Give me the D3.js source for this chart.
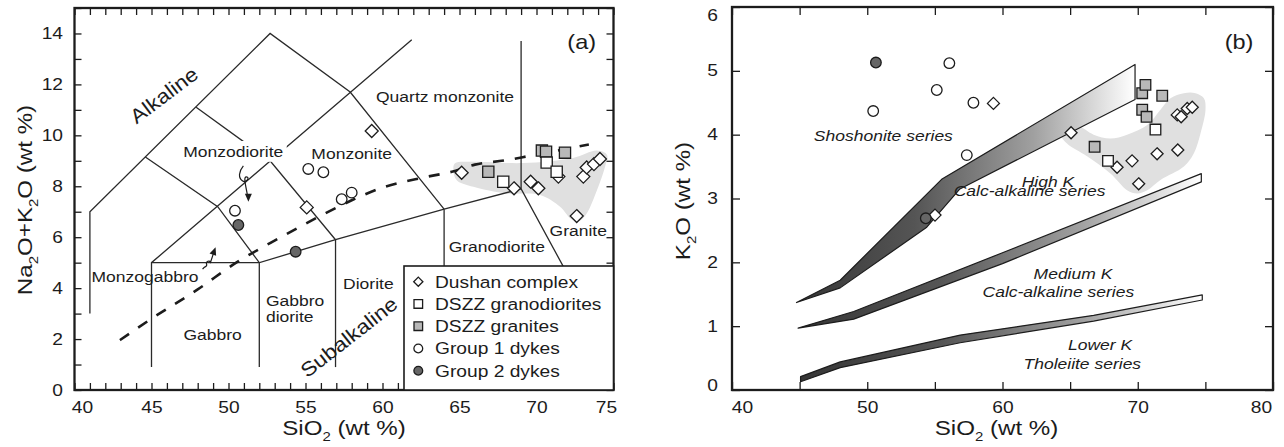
<!DOCTYPE html>
<html>
<head>
<meta charset="utf-8">
<title>Dushan complex: TAS and K2O–SiO2 diagrams</title>
<script src="https://cdn.jsdelivr.net/npm/d3@7/dist/d3.min.js"></script>
<style>
  html, body { margin: 0; padding: 0; background: #fff; }
  svg { display: block; }
  svg text { font-family: "Liberation Sans", Arial, Helvetica, sans-serif; fill: #1c1c1c; }
</style>
</head>
<body>
<svg id="chart" width="1284" height="447"></svg>
<script>
// ---------- Panel (a): total alkali vs silica (SiO2, Na2O+K2O) ----------
const dushanTAS       = [[55.08,7.17],[59.3,10.17],[65.14,8.53],[68.54,7.92],[69.62,8.18],[70.12,7.92],
                         [71.42,8.38],[72.61,6.83],[73.04,8.38],[73.26,8.74],[73.73,8.87],[74.12,9.07]];
const granodioriteTAS = [[67.84,8.18],[70.66,8.93],[71.31,8.57]];
const graniteTAS      = [[66.87,8.57],[70.35,9.40],[70.62,9.36],[71.85,9.32]];
const group1TAS       = [[50.42,7.04],[55.18,8.68],[56.16,8.55],[57.35,7.49],[58.0,7.75]];
const group2TAS       = [[50.64,6.48],[54.36,5.43]];

// field boundaries of the plutonic TAS grid
const tasBoundaries = [
  [[41,3],[41,7],[52.7,14],[57.9,11.7],[64,7.1]],
  [[44.6,9.15],[49.3,7.2],[52,5]],
  [[47.9,11.1],[52.7,9.0],[56.95,5.9]],
  [[45,0.9],[45,5],[61.9,13.75]],
  [[45,5],[52,5]],
  [[52,0.9],[52,5],[56.95,5.9],[64,7.1],[69,7.9]],
  [[56.95,0.9],[56.95,5.9]],
  [[64,1],[64,7.1]],
  [[69,13.7],[69,7.9],[73.4,3.0]]
];
// alkaline / subalkaline divide
const alkalineDivide = [[42.95,1.96],[45,2.8],[48,3.95],[50.5,5.0],[53.4,6.0],[56,6.85],[58,7.45],[60,7.95],
                        [62.7,8.35],[64.5,8.57],[66,8.85],[68,9.02],[69.6,9.2],[73.4,9.64]];
// outline of the Dushan complex field
const dushanFieldTAS = [[64.71,8.90],[65.88,8.96],[69.12,8.91],[72.37,9.11],[73.93,9.40],[74.58,9.23],[74.45,8.77],
                        [73.93,7.85],[73.28,6.95],[72.82,6.65],[72.29,6.70],[71.53,7.20],[70.23,7.66],[68.06,7.72],
                        [65.90,7.98],[64.82,8.24],[64.60,8.64]];
// rock names placed in the fields: [name, SiO2, Na2O+K2O]
const tasFieldNames = [
  ["Monzonite", 58.0, 9.29], ["Quartz monzonite", 64.06, 11.52], ["Monzogabbro", 44.58, 4.45],
  ["Gabbro", 48.97, 2.16], ["Diorite", 59.08, 4.19], ["Granodiorite", 67.42, 5.65], ["Granite", 72.71, 6.28]
];

// ---------- Panel (b): K2O vs SiO2 ----------
const dushanK       = [[55.01,2.74],[59.33,4.49],[65.07,4.03],[68.47,3.49],[69.58,3.59],[70.07,3.23],
                       [71.43,3.70],[72.96,3.76],[72.92,4.31],[73.21,4.28],[73.66,4.41],[74.03,4.43]];
const granodioriteK = [[67.8,3.59],[71.31,4.08]];
const graniteK      = [[66.81,3.81],[70.33,4.65],[70.57,4.78],[71.81,4.61],[70.33,4.39],[70.65,4.28]];
const group1K       = [[50.44,4.37],[55.14,4.70],[56.07,5.12],[57.36,3.68],[57.85,4.50]];
const group2K       = [[50.64,5.13],[54.33,2.69]];

// series divides drawn as bands
const bandShoshoniteHighK = [[44.77,1.37],[48,1.72],[55.5,3.3],[69.8,5.1],[69.8,4.55],[56.85,3.15],[54.4,2.55],[48,1.6]];
const bandHighMediumK     = [[44.89,0.97],[49,1.23],[60,2.15],[74.7,3.39],[74.7,3.26],[60,1.98],[49,1.11]];
const bandMediumLowK      = [[45.07,0.21],[48,0.44],[56.87,0.86],[66.74,1.17],[74.77,1.49],
                             [74.77,1.41],[66.74,1.08],[56.87,0.74],[48,0.35],[45.07,0.13]];
const dushanFieldK = [[64.27,4.02],[64.50,4.17],[65.51,4.15],[66.74,4.00],[67.98,3.94],[69.21,4.00],[70.70,4.15],
                      [71.68,4.39],[72.42,4.57],[73.41,4.65],[74.27,4.65],[74.89,4.57],[75.01,4.39],[74.64,4.02],
                      [74.15,3.71],[73.41,3.50],[71.68,3.29],[70.70,3.13],[69.96,3.08],[69.21,3.13],[67.98,3.39],
                      [66.25,3.66],[64.77,3.86]];
const seriesNamesK = [["Shoshonite series", 51.19, 3.99], ["High  K", 63.36, 3.26], ["Calc-alkaline series", 62.0, 3.13],
                      ["Medium  K", 65.21, 1.83], ["Calc-alkaline series", 64.13, 1.54],
                      ["Lower  K", 67.21, 0.705], ["Tholeiite series", 65.9, 0.42]];

// ---------- axes ----------
const tasXTicks  = d3.range(40, 76, 1);
const tasXLabels = [40, 45, 50, 55, 60, 65, 70, 75];
const tasYTicks  = d3.range(0, 16, 1);
const tasYLabels = [0, 2, 4, 6, 8, 10, 12, 14];
const kXTicks    = [40, 45, 50, 55, 60, 65, 70, 75, 80];
const kXLabels   = [40, 50, 60, 70, 80];
const kYTicks    = [0, 1, 2, 3, 4, 5, 6];

const legendNames = ["Dushan complex", "DSZZ granodiorites", "DSZZ granites", "Group 1 dykes", "Group 2 dykes"];

// ====================================================================
const svg = d3.select("#chart");
const INK = "#1c1c1c";

const xA = d3.scaleLinear().domain([40, 75]).range([74.5, 613.5]);
const yA = d3.scaleLinear().domain([0, 15]).range([390, 8]);
const xB = d3.scaleLinear().domain([40, 80]).range([732, 1273]);
const yB = d3.scaleLinear().domain([0, 6]).range([390, 7]);

const defs = svg.append("defs");

function plainText(g, x, y, str, o = {}) {
  const t = g.append("text")
    .attr("transform", `translate(${x},${y}) rotate(${o.rotate || 0}) scale(${o.sx || 1.13},1)`)
    .attr("text-anchor", o.anchor || "middle")
    .attr("dy", o.dy || "0.35em")
    .attr("font-size", o.size || 15.5)
    .text(str);
  if (o.italic) t.attr("font-style", "italic");
  return t;
}

function richText(g, x, y, parts, o) {
  const fs = o.size;
  const t = g.append("text")
    .attr("transform", `translate(${x},${y}) rotate(${o.rotate || 0}) scale(${o.sx || 1.15},1)`)
    .attr("text-anchor", "middle").attr("font-size", fs);
  let shift = 0;
  parts.forEach(([s, sub]) => {
    const target = sub ? fs * 0.3 : 0;
    t.append("tspan").attr("dy", target - shift).attr("font-size", sub ? fs * 0.62 : fs).text(s);
    shift = target;
  });
  return t;
}

function shapePath(kind, r) {
  if (kind === "diamond") return `M0,${-r}L${r},0L0,${r}L${-r},0Z`;
  if (kind === "square") return `M${-r},${-r}H${r}V${r}H${-r}Z`;
  return d3.symbol(d3.symbolCircle, Math.PI * r * r)();
}

function markers(g, data, x, y, kind, fill, r) {
  g.append("g").selectAll("path").data(data).join("path")
    .attr("transform", d => `translate(${x(d[0])},${y(d[1])})`)
    .attr("d", shapePath(kind, r))
    .attr("fill", fill).attr("stroke", INK).attr("stroke-width", 1.3);
}

function styleAxis(sel) {
  sel.select(".domain").remove();
  sel.attr("font-family", null).attr("font-size", 16);
  sel.selectAll(".tick line").attr("stroke", INK).attr("stroke-width", 1.3);
  sel.selectAll(".tick text").attr("fill", INK);
}

function frameAxes(g, x, y, o) {
  const [xl, xr] = x.range(), [yb, yt] = y.range();
  const sx = 1.2;
  const fmtX = d => o.xLabels.includes(d) ? d : "";
  const fmtY = d => o.yLabels.includes(d) ? d : "";
  const bottom = g.append("g").attr("transform", `translate(0,${yb})`)
    .call(d3.axisBottom(x).tickValues(o.xTicks).tickSizeInner(-o.tick).tickSizeOuter(0).tickPadding(12).tickFormat(fmtX));
  styleAxis(bottom);
  bottom.selectAll(".tick text").each(function (d) {
    d3.select(this).attr("x", (o.xShift[d] || 0) / sx).attr("transform", `scale(${sx},1)`);
  });
  const top = g.append("g").attr("transform", `translate(0,${yt})`)
    .call(d3.axisTop(x).tickValues(o.xTicksTop || o.xTicks).tickSizeInner(-o.tick).tickSizeOuter(0).tickFormat(""));
  styleAxis(top);
  const left = g.append("g").attr("transform", `translate(${xl},0)`)
    .call(d3.axisLeft(y).tickValues(o.yTicks).tickSizeInner(-o.tick).tickSizeOuter(0).tickPadding(o.yPad).tickFormat(fmtY));
  styleAxis(left);
  left.selectAll(".tick text").each(function (d) {
    d3.select(this).attr("x", -o.yPad / sx).attr("y", o.yShift[d] || 0).attr("transform", `scale(${sx},1)`);
  });
  const right = g.append("g").attr("transform", `translate(${xr},0)`)
    .call(d3.axisRight(y).tickValues(o.yTicks).tickSizeInner(-o.tick).tickSizeOuter(0).tickFormat(""));
  styleAxis(right);
  g.append("rect").attr("x", xl).attr("y", yt).attr("width", xr - xl).attr("height", yb - yt)
    .attr("fill", "none").attr("stroke", INK).attr("stroke-width", 2.3);
}

// ====================== Panel (a) ======================
const gA = svg.append("g");
const lineA = d3.line().x(d => xA(d[0])).y(d => yA(d[1]));

gA.append("path").datum(dushanFieldTAS)
  .attr("d", d3.line().x(d => xA(d[0])).y(d => yA(d[1])).curve(d3.curveCatmullRomClosed.alpha(0.5)))
  .attr("fill", "#e0e0e0");

gA.append("g").selectAll("path").data(tasBoundaries).join("path")
  .attr("d", lineA).attr("fill", "none").attr("stroke", "#2a2a2a").attr("stroke-width", 1.3);

gA.append("path").datum(alkalineDivide)
  .attr("d", d3.line().x(d => xA(d[0])).y(d => yA(d[1])).curve(d3.curveMonotoneX))
  .attr("fill", "none").attr("stroke", INK).attr("stroke-width", 2.6).attr("stroke-dasharray", "11,11");

// field names
const namesA = gA.append("g");
tasFieldNames.forEach(([n, sx, sy]) => plainText(namesA, xA(sx), yA(sy), n));
plainText(namesA, xA(52.43), yA(3.53), "Gabbro", { anchor: "start" });
plainText(namesA, xA(52.43), yA(2.88), "diorite", { anchor: "start" });
plainText(namesA, xA(45.81), yA(11.58), "Alkaline", { size: 20, rotate: -37 });
plainText(namesA, xA(57.82), yA(2.08), "Subalkaline", { size: 20, rotate: -38 });
// Monzodiorite sits on a white patch that interrupts the field lines
const mzd = plainText(namesA, xA(50.31), yA(9.36), "Monzodiorite");
const bb = mzd.node().getBBox();
namesA.insert("rect", () => mzd.node())
  .attr("transform", mzd.attr("transform"))
  .attr("x", bb.x - 3).attr("y", bb.y - 2).attr("width", bb.width + 6).attr("height", bb.height + 3)
  .attr("fill", "#fff");

// curly pointers from the small-field names
function pointer(g, tipX, tipY, d, headAngle) {
  const p = g.append("g").attr("transform", `translate(${tipX},${tipY})`);
  p.append("path").attr("d", d).attr("fill", "none").attr("stroke", INK).attr("stroke-width", 1.2);
  p.append("path").attr("d", "M0,0L-3.5,-8L3.5,-8Z").attr("transform", `rotate(${headAngle})`).attr("fill", INK);
}
pointer(gA, xA(51.29), yA(7.39), "M-5,-36 C-10,-30 -10,-24 -6,-21 C-2,-18 2,-25 -2,-25 C-5,-25 -3,-18 -1,-7", 0);
pointer(gA, xA(49.16), yA(5.61), "M-13,22 C-10,18 -8,20 -9,17 C-10,14 -6,13 -5,15 L-2,6", 200);

markers(gA, dushanTAS, xA, yA, "diamond", "#fff", 6.5);
markers(gA, graniteTAS, xA, yA, "square", "#b8b8b8", 5.6);
markers(gA, granodioriteTAS, xA, yA, "square", "#fff", 5.6);
markers(gA, group1TAS, xA, yA, "circle", "#fff", 5.3);
markers(gA, group2TAS, xA, yA, "circle", "#666", 5.3);

frameAxes(gA, xA, yA, {
  xTicks: tasXTicks, xLabels: tasXLabels, yTicks: tasYTicks, yLabels: tasYLabels,
  tick: 7, yPad: 11.5, xShift: { 40: 7.5, 75: -7.5 }, yShift: {}
});
plainText(gA, 581.7, 41.7, "(a)", { size: 21, sx: 1.12 });

// legend
const legend = gA.append("g").attr("transform", "translate(404,266)");
legend.append("rect").attr("width", 209.5).attr("height", 124).attr("fill", "#fff")
  .attr("stroke", INK).attr("stroke-width", 1.6);
const legendStyle = [["diamond", "#fff", 4.6], ["square", "#fff", 4.3], ["square", "#b8b8b8", 4.3],
                     ["circle", "#fff", 4.4], ["circle", "#666", 4.4]];
legendNames.forEach((n, i) => {
  const cy = 15.7 + i * 22.25;
  legend.append("path").attr("transform", `translate(14.3,${cy})`)
    .attr("d", shapePath(legendStyle[i][0], legendStyle[i][2]))
    .attr("fill", legendStyle[i][1]).attr("stroke", INK).attr("stroke-width", 1.3);
  plainText(legend, 31, cy, n, { size: 17, sx: 1.13, anchor: "start" });
});

richText(gA, 344, 435, [["SiO", false], ["2", true], [" (wt %)", false]], { size: 21 });
richText(gA, 32, 200, [["Na", false], ["2", true], ["O+K", false], ["2", true], ["O (wt %)", false]], { size: 21, rotate: -90 });

// ====================== Panel (b) ======================
const gB = svg.append("g");
const lineB = d3.line().x(d => xB(d[0])).y(d => yB(d[1]));

gB.append("path").datum(dushanFieldK)
  .attr("d", d3.line().x(d => xB(d[0])).y(d => yB(d[1])).curve(d3.curveCatmullRomClosed.alpha(0.5)))
  .attr("fill", "#e0e0e0");

const bandStops = [[0, "#353535"], [0.35, "#555"], [0.7, "#a0a0a0"], [1, "#fff"]];
[["gShoHK", bandShoshoniteHighK], ["gHKMK", bandHighMediumK], ["gMKLK", bandMediumLowK]].forEach(([id, pts]) => {
  const grad = defs.append("linearGradient").attr("id", id).attr("x1", 0).attr("y1", 0).attr("x2", 1).attr("y2", 0);
  bandStops.forEach(([o, c]) => grad.append("stop").attr("offset", o).attr("stop-color", c));
  gB.append("path").datum(pts).attr("d", d => lineB(d) + "Z")
    .attr("fill", `url(#${id})`).attr("stroke", INK).attr("stroke-width", 1.2).attr("stroke-linejoin", "round");
});

const namesB = gB.append("g");
seriesNamesK.forEach(([n, sx, sy]) => plainText(namesB, xB(sx), yB(sy), n, { italic: true }));

markers(gB, dushanK, xB, yB, "diamond", "#fff", 6);
markers(gB, graniteK, xB, yB, "square", "#b8b8b8", 5.3);
markers(gB, granodioriteK, xB, yB, "square", "#fff", 5.3);
markers(gB, group1K, xB, yB, "circle", "#fff", 5.3);
markers(gB, group2K, xB, yB, "circle", "#666", 5.3);

frameAxes(gB, xB, yB, {
  xTicks: kXTicks, xLabels: kXLabels, yTicks: kYTicks, yLabels: kYTicks,
  tick: 8, yPad: 14, xShift: { 40: 10, 80: -12 }, yShift: { 6: 8, 0: -4.5 }
});
plainText(gB, 1239, 41.7, "(b)", { size: 21, sx: 1.12 });

richText(gB, 996.5, 435, [["SiO", false], ["2", true], [" (wt %)", false]], { size: 21 });
richText(gB, 690, 201, [["K", false], ["2", true], ["O (wt %)", false]], { size: 21, rotate: -90 });
</script>
</body>
</html>
